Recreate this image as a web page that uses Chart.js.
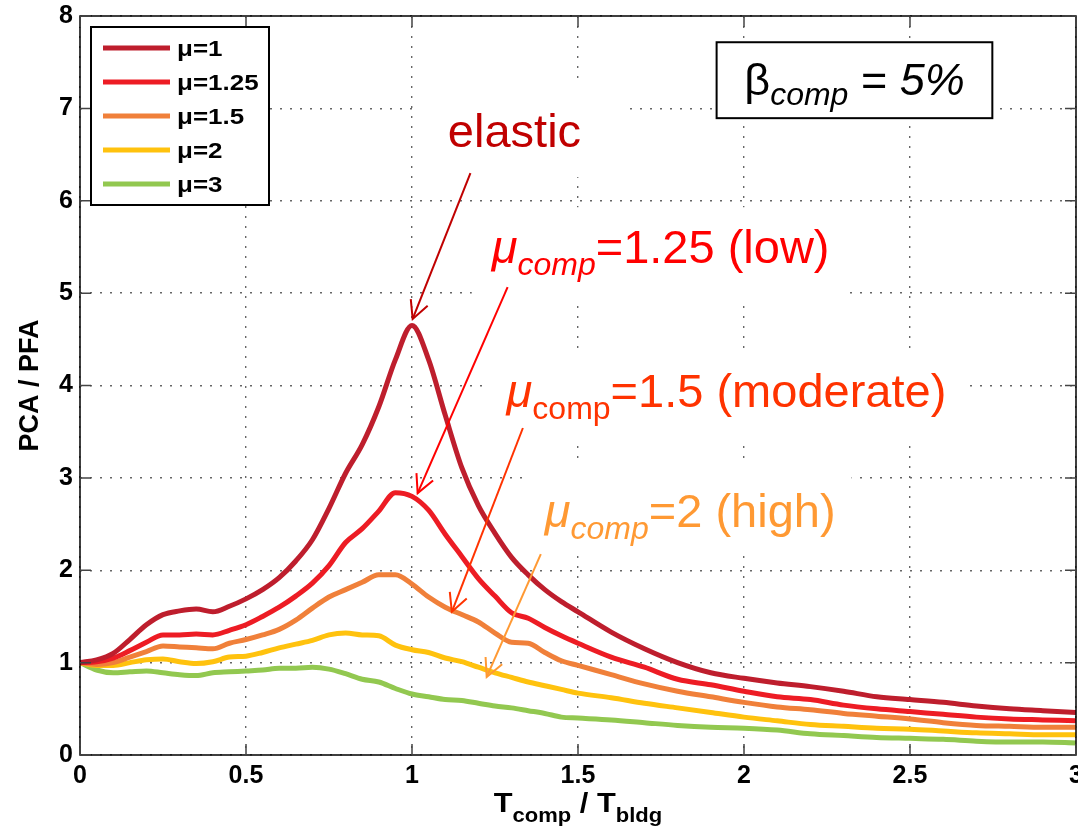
<!DOCTYPE html>
<html><head><meta charset="utf-8">
<script src="https://cdn.jsdelivr.net/npm/chart.js@4/dist/chart.umd.min.js"></script>
<style>html,body{margin:0;padding:0;background:#fff;}canvas{display:block;}</style>
</head><body>
<canvas id="c" width="1078" height="835"></canvas>
<script>
// ---------- data ----------
const xValues = [0,0.05,0.1,0.15,0.2,0.25,0.3,0.35,0.4,0.45,
                 0.5,0.55,0.6,0.65,0.7,0.75,0.8,0.85,0.9,0.95,
                 1.0,1.05,1.1,1.15,1.2,1.25,1.3,1.35,1.4,1.45,
                 1.5,1.6,1.7,1.8,1.9,2.0,2.1,2.2,2.3,2.4,2.5,2.6,2.7,2.8,2.9,3.0];
const mu1   = [1.00,1.03,1.10,1.25,1.41,1.52,1.56,1.58,1.55,1.61,
               1.69,1.79,1.92,2.10,2.33,2.67,3.05,3.36,3.77,4.28,
               4.65,4.28,3.68,3.11,2.70,2.40,2.14,1.95,1.79,1.66,
               1.55,1.33,1.15,1.00,0.89,0.83,0.78,0.74,0.69,0.63,0.60,0.57,0.53,0.50,0.48,0.46];
const mu125 = [1.00,1.01,1.05,1.13,1.22,1.30,1.30,1.31,1.30,1.35,
               1.41,1.50,1.60,1.72,1.86,2.05,2.30,2.45,2.64,2.84,
               2.80,2.65,2.39,2.15,1.91,1.72,1.54,1.48,1.38,1.29,
               1.21,1.06,0.95,0.82,0.76,0.69,0.63,0.60,0.54,0.50,0.47,0.44,0.41,0.39,0.38,0.37];
const mu15  = [1.00,0.98,1.00,1.06,1.12,1.18,1.17,1.16,1.15,1.21,
               1.25,1.30,1.36,1.46,1.59,1.71,1.79,1.87,1.95,1.95,
               1.85,1.71,1.60,1.52,1.44,1.32,1.22,1.21,1.11,1.02,
               0.97,0.87,0.77,0.69,0.63,0.57,0.52,0.49,0.45,0.42,0.39,0.35,0.32,0.31,0.30,0.30];
const mu2   = [1.00,0.97,0.97,1.00,1.03,1.04,1.01,0.99,1.01,1.06,
               1.07,1.11,1.16,1.20,1.24,1.30,1.32,1.30,1.29,1.19,
               1.14,1.11,1.05,1.01,0.95,0.89,0.84,0.79,0.75,0.71,
               0.67,0.62,0.56,0.51,0.46,0.41,0.37,0.33,0.31,0.29,0.28,0.26,0.24,0.23,0.22,0.22];
const mu3   = [1.00,0.92,0.89,0.90,0.91,0.89,0.87,0.86,0.89,0.90,
               0.91,0.92,0.94,0.94,0.95,0.93,0.88,0.82,0.79,0.72,
               0.66,0.63,0.60,0.59,0.56,0.53,0.51,0.48,0.45,0.41,
               0.40,0.38,0.35,0.32,0.30,0.29,0.27,0.23,0.21,0.19,0.18,0.17,0.15,0.14,0.14,0.13];
const seriesLabels = ['μ=1','μ=1.25','μ=1.5','μ=2','μ=3'];
const seriesValues = [mu1, mu125, mu15, mu2, mu3];
const xTickLabels = ['0','0.5','1','1.5','2','2.5','3'];
const xTickStep = 0.5, xMin = 0, xMax = 3;
const yTickStep = 1, yMin = 0, yMax = 8;
const yTitle = 'PCA / PFA';

// ---------- styles ----------
const FONT = '"Liberation Sans", Arial, Helvetica, sans-serif';
const seriesColors = ['#BE1E2D','#ED1C24','#F0803A','#FFC20E','#92C850'];

// annotations (positions in data units)
const notes = [
  {color:'#C00000', x:1.108, y:6.58, parts:[{t:'elastic'}],
   arrow:[1.176,6.30,1.002,4.72], mask:[1.0235,7.25,1.656,6.255]},
  {color:'#FF0000', x:1.240, y:5.325, parts:[{t:'μ',it:true},{t:'comp',it:true,sub:true},{t:'=1.25 (low)'}],
   arrow:[1.288,5.065,1.017,2.835], mask:[1.18,5.93,2.312,4.924]},
  {color:'#FF3300', x:1.285, y:3.766, parts:[{t:'μ',it:true},{t:'comp',sub:true},{t:'=1.5 (moderate)'}],
   arrow:[1.334,3.54,1.12,1.55], mask:[1.213,4.383,2.673,3.377]},
  {color:'#FF9933', x:1.40, y:2.468, parts:[{t:'μ',it:true},{t:'comp',it:true,sub:true},{t:'=2 (high)'}],
   arrow:[1.388,2.175,1.225,0.845], mask:[1.3335,3.16,2.324,2.186]}
];

const datasets = seriesValues.map((vals, i) => ({
  label: seriesLabels[i],
  data: xValues.map((x, j) => ({x: x, y: vals[j]})),
  borderColor: seriesColors[i],
  backgroundColor: seriesColors[i],
  borderWidth: 5,
  pointRadius: 0,
  fill: false,
  cubicInterpolationMode: 'monotone'
}));

function setFont(ctx, p, size) {
  ctx.font = (p.it ? 'italic ' : '') + (p.bold ? 'bold ' : '') + size + 'px ' + FONT;
}
function richWidth(ctx, parts, size, subSize) {
  let w = 0;
  parts.forEach(p => { setFont(ctx, p, p.sub ? subSize : size); w += ctx.measureText(p.t).width; });
  return w;
}
function drawRich(ctx, x, y, parts, size, subSize, subDy, stretch) {
  stretch = stretch || 1;
  ctx.save();
  ctx.translate(x, y); ctx.scale(stretch, 1);
  let cx = 0;
  parts.forEach(p => {
    setFont(ctx, p, p.sub ? subSize : size);
    ctx.fillText(p.t, cx, p.sub ? subDy : 0);
    cx += ctx.measureText(p.t).width;
  });
  ctx.restore();
}

const decor = {
  id: 'decor',
  beforeDatasetsDraw(chart) {
    const ctx = chart.ctx, sx = chart.scales.x, sy = chart.scales.y;
    ctx.save();
    ctx.fillStyle = '#fff';
    notes.forEach(n => {
      const [x0, y0, x1, y1] = n.mask;
      const a = sx.getPixelForValue(x0), b = sy.getPixelForValue(y0);
      const c = sx.getPixelForValue(x1), d = sy.getPixelForValue(y1);
      ctx.fillRect(a, b, c - a, d - b);
    });
    ctx.restore();
  },
  afterDatasetsDraw(chart) {
    const ctx = chart.ctx, sx = chart.scales.x, sy = chart.scales.y, ca = chart.chartArea;
    ctx.save();
    // axes box
    ctx.strokeStyle = '#000'; ctx.lineWidth = 1.5;
    ctx.strokeRect(ca.left, ca.top, ca.right - ca.left, ca.bottom - ca.top);
    // inward tick marks
    ctx.strokeStyle = '#444'; ctx.lineWidth = 1.5;
    const tl = 11;
    ctx.beginPath();
    sx.ticks.forEach(t => {
      const p = sx.getPixelForValue(t.value);
      ctx.moveTo(p, ca.bottom); ctx.lineTo(p, ca.bottom - tl);
      ctx.moveTo(p, ca.top); ctx.lineTo(p, ca.top + tl);
    });
    sy.ticks.forEach(t => {
      const p = sy.getPixelForValue(t.value);
      ctx.moveTo(ca.left, p); ctx.lineTo(ca.left + tl, p);
      ctx.moveTo(ca.right, p); ctx.lineTo(ca.right - tl, p);
    });
    ctx.stroke();

    // legend
    const lx = ca.left + 11, ly = ca.top + 11, lw = 178, lh = 178;
    ctx.fillStyle = '#fff'; ctx.fillRect(lx, ly, lw, lh);
    ctx.strokeStyle = '#000'; ctx.lineWidth = 2; ctx.strokeRect(lx, ly, lw, lh);
    chart.data.datasets.forEach((ds, i) => {
      const ry = ly + 21 + i * 34;
      ctx.strokeStyle = ds.borderColor; ctx.lineWidth = 5;
      ctx.beginPath(); ctx.moveTo(lx + 12, ry); ctx.lineTo(lx + 79, ry); ctx.stroke();
      ctx.fillStyle = '#000';
      ctx.font = 'bold 22px ' + FONT;
      ctx.textBaseline = 'middle';
      ctx.save(); ctx.translate(lx + 86, ry + 2); ctx.scale(1.18, 1);
      ctx.fillText(ds.label, 0, 0);
      ctx.restore();
    });
    ctx.textBaseline = 'alphabetic';

    // beta box
    const bx0 = sx.getPixelForValue(1.9175), by0 = sy.getPixelForValue(7.716);
    const bx1 = sx.getPixelForValue(2.748), by1 = sy.getPixelForValue(6.894);
    ctx.fillStyle = '#fff'; ctx.fillRect(bx0, by0, bx1 - bx0, by1 - by0);
    ctx.strokeStyle = '#000'; ctx.lineWidth = 2; ctx.strokeRect(bx0, by0, bx1 - bx0, by1 - by0);
    ctx.fillStyle = '#000';
    const bparts = [{t:'β'},{t:'comp',it:true,sub:true},{t:' = '},{t:'5%',it:true}];
    const bw = richWidth(ctx, bparts, 45, 32);
    drawRich(ctx, (bx0 + bx1) / 2 - bw / 2, by0 + 53, bparts, 45, 32, 10);

    // annotations
    notes.forEach(n => {
      ctx.fillStyle = n.color; ctx.strokeStyle = n.color;
      drawRich(ctx, sx.getPixelForValue(n.x), sy.getPixelForValue(n.y), n.parts, 47, 32, 12);
      const [x0, y0, x1, y1] = n.arrow;
      const a = sx.getPixelForValue(x0), b = sy.getPixelForValue(y0);
      const c = sx.getPixelForValue(x1), d = sy.getPixelForValue(y1);
      ctx.lineWidth = 2;
      ctx.beginPath(); ctx.moveTo(a, b); ctx.lineTo(c, d); ctx.stroke();
      const ang = Math.atan2(b - d, a - c), L = 20, h = 27 * Math.PI / 180;
      ctx.beginPath();
      ctx.moveTo(c + L * Math.cos(ang + h), d + L * Math.sin(ang + h));
      ctx.lineTo(c, d);
      ctx.lineTo(c + L * Math.cos(ang - h), d + L * Math.sin(ang - h));
      ctx.stroke();
    });

    // x-axis title with subscripts
    ctx.fillStyle = '#000';
    const xparts = [{t:'T',bold:true},{t:'comp',bold:true,sub:true},{t:' / ',bold:true},{t:'T',bold:true},{t:'bldg',bold:true,sub:true}];
    const xs = 1.1;
    const xw = richWidth(ctx, xparts, 28, 20) * xs;
    drawRich(ctx, (ca.left + ca.right) / 2 - xw / 2, ca.bottom + 57, xparts, 28, 20, 10, xs);
    ctx.restore();
  }
};

new Chart(document.getElementById('c'), {
  type: 'line',
  data: {datasets: datasets},
  plugins: [decor],
  options: {
    responsive: false, animation: false, devicePixelRatio: 1,
    layout: {padding: {top: 16, right: 2, left: 0, bottom: 0}},
    plugins: {legend: {display: false}, tooltip: {enabled: false}},
    scales: {
      x: {
        type: 'linear', min: xMin, max: xMax,
        ticks: {stepSize: xTickStep, autoSkip: false, maxRotation: 0, color: '#000', padding: 6,
                font: {family: FONT, size: 25, weight: 'bold'},
                callback: (v, i) => xTickLabels[i]},
        grid: {color: '#666', lineWidth: 1.4, drawTicks: false},
        border: {display: false, dash: [2, 8]},
        afterFit(s) { s.height = 80; s.paddingLeft = 0; s.paddingRight = 0; }
      },
      y: {
        type: 'linear', min: yMin, max: yMax,
        ticks: {stepSize: yTickStep, color: '#000', padding: 7,
                font: {family: FONT, size: 25, weight: 'bold'}},
        grid: {color: '#666', lineWidth: 1.4, drawTicks: false},
        border: {display: false, dash: [2, 8]},
        title: {display: true, text: yTitle, color: '#000', padding: {top: 14, bottom: 0},
                font: {family: FONT, size: 27, weight: 'bold'}},
        afterFit(s) { s.width = 80; s.paddingTop = 0; s.paddingBottom = 0; }
      }
    }
  }
});
</script>
</body></html>
